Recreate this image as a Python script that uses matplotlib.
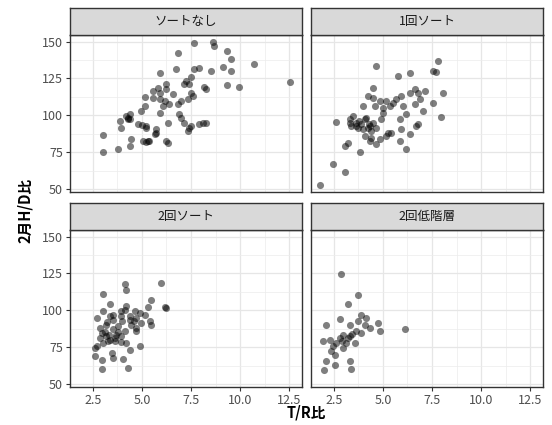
import numpy as np
import matplotlib
matplotlib.use('Agg')
import matplotlib.pyplot as plt
from matplotlib.ticker import MultipleLocator

plt.rcParams['font.family'] = ['Noto Sans CJK JP', 'DejaVu Sans']

titles = ['ソートなし', '1回ソート', '2回ソート', '2回低階層']

# ソートなし
tr_0 = [7.67, 8.6, 8.69, 6.83, 9.36, 9.53, 10.71, 9.11, 9.53, 8.52, 7.92, 7.67, 6.74, 5.9,
        12.57, 9.36, 9.95, 8.18, 8.26, 7.5, 7.25, 7.16, 7.42, 6.24, 6.24, 5.81, 5.56, 5.9,
        7.5, 7.59, 6.57, 5.14, 5.56, 5.9, 6.15, 6.4, 6.83, 6.07, 7.0, 7.33, 5.14, 4.97, 5.9,
        4.38, 4.29, 4.38, 3.87, 6.91, 7.0, 7.16, 6.32, 4.8, 5.22, 5.22, 3.95, 5.73, 7.42,
        7.33, 7.5, 7.92, 8.09, 8.26, 5.73, 5.64, 3.02, 4.46, 5.05, 5.22, 5.31, 6.24, 6.32,
        4.38, 3.78, 3.02, 4.2, 4.3, 5.35, 5.0]
hd_0 = [149.1, 149.6, 146.9, 142.3, 143.5, 138.3, 134.5, 132.7, 130.0, 130.4, 132.2, 131.1,
        131.5, 128.4, 122.5, 120.3, 119.4, 119.4, 118.0, 126.1, 123.2, 121.0, 121.0, 121.0,
        117.6, 118.7, 116.4, 115.3, 114.9, 113.1, 114.2, 112.4, 111.9, 110.8, 109.7, 107.4,
        107.4, 106.3, 109.7, 110.8, 106.3, 102.9, 101.8, 100.7, 98.4, 97.3, 96.2, 100.7, 98.4,
        95.0, 95.0, 93.9, 92.8, 91.7, 91.7, 90.5, 91.7, 89.4, 92.8, 93.9, 94.6, 94.6, 88.3,
        87.2, 86.5, 83.8, 82.6, 82.0, 82.6, 82.6, 81.1, 79.3, 77.0, 74.8, 99.5, 97.8, 82.3,
        93.2]

# 1回ソート
tr_1 = [1.8, 2.45, 3.05, 3.81, 3.05, 3.22, 2.62, 3.3, 3.47, 3.64, 3.9, 4.15, 4.32, 4.49,
        4.07, 4.41, 4.66, 4.32, 4.66, 4.92, 5.0, 5.17, 5.43, 5.85, 6.19, 6.36, 6.7, 6.79,
        5.94, 5.85, 6.19, 6.02, 5.51, 5.68, 5.94, 6.36, 6.62, 6.79, 7.13, 6.87, 6.62, 7.04,
        7.55, 7.98, 8.06, 7.72, 7.55, 7.81, 6.36, 5.77, 4.66, 4.49, 4.24, 4.49, 3.98, 4.58,
        4.83, 5.17, 5.34, 5.0, 3.73, 4.24, 4.41, 5.26, 4.07, 4.83, 3.39, 3.6, 3.8, 4.0,
        4.3, 3.3]
hd_1 = [52.7, 67.3, 61.7, 74.8, 79.3, 81.5, 95.5, 97.3, 99.5, 95.0, 93.9, 98.4, 92.8, 95.0,
        86.0, 84.9, 80.4, 82.6, 91.7, 97.3, 101.8, 86.0, 88.3, 82.6, 77.0, 87.2, 92.8, 93.9,
        90.5, 97.3, 100.7, 106.3, 108.5, 110.8, 113.1, 115.3, 117.6, 115.3, 116.4, 110.8,
        107.4, 102.9, 108.5, 99.1, 114.9, 129.3, 130.0, 137.2, 128.4, 126.6, 133.3, 118.7,
        113.1, 111.9, 106.3, 106.3, 109.7, 109.7, 106.3, 105.2, 91.7, 91.7, 89.4, 88.3, 97.3,
        83.8, 92.8, 93.0, 96.0, 91.0, 94.0, 95.0]

# 2回ソート
tr_2 = [4.12, 4.21, 5.98, 3.02, 5.48, 3.36, 4.21, 5.31, 6.15, 6.24, 3.02, 3.95, 4.12, 4.63,
        4.88, 5.14, 2.69, 3.36, 3.53, 3.95, 4.38, 5.39, 5.48, 3.19, 3.78, 4.71, 4.71, 4.12,
        2.94, 3.19, 3.36, 3.61, 3.95, 3.95, 4.21, 3.02, 2.69, 4.88, 4.38, 3.45, 3.53, 2.94,
        2.6, 4.04, 2.94, 4.29, 2.85, 3.28, 3.7, 3.53, 4.46, 2.85, 4.97, 2.6, 3.1, 3.3, 3.6,
        3.8, 4.0, 4.4, 4.7, 3.2, 3.5, 4.6]
hd_2 = [118.0, 113.9, 118.4, 111.2, 106.7, 104.4, 103.1, 102.6, 102.6, 101.5, 99.3, 99.3,
        100.4, 99.3, 98.1, 97.0, 94.8, 95.9, 93.6, 95.9, 93.6, 92.5, 90.3, 90.3, 89.1, 88.0,
        85.8, 85.8, 84.6, 82.4, 80.1, 81.2, 82.4, 78.3, 77.9, 77.9, 75.6, 75.6, 72.9, 71.1,
        67.7, 66.6, 69.3, 67.1, 60.3, 61.0, 81.2, 79.0, 83.5, 87.3, 90.3, 88.0, 91.4, 74.5,
        85.0, 83.0, 79.0, 85.0, 93.0, 96.0, 95.0, 92.0, 97.0, 93.0]

# 2回低階層
tr_3 = [2.88, 3.73, 3.22, 3.9, 2.79, 4.75, 6.11, 2.11, 3.3, 3.73, 4.07, 4.32, 4.83, 3.9,
        2.96, 3.3, 2.79, 2.28, 1.94, 3.13, 3.56, 2.45, 2.96, 2.37, 2.54, 2.11, 2.54, 3.3,
        3.39, 1.97, 2.62, 4.15, 3.4, 3.6, 2.9, 3.2]
hd_3 = [124.7, 110.5, 104.2, 97.0, 94.1, 91.4, 87.3, 90.3, 90.3, 92.5, 90.3, 88.0, 85.8,
        84.6, 83.5, 82.4, 81.2, 80.1, 79.0, 77.9, 77.9, 75.6, 74.5, 72.2, 70.0, 65.5, 63.2,
        65.5, 60.3, 59.8, 77.9, 94.8, 84.0, 86.0, 79.0, 81.0]

xs = [tr_0, tr_1, tr_2, tr_3]
ys = [hd_0, hd_1, hd_2, hd_3]

fig = plt.figure(figsize=(5.52, 4.25), dpi=100)
W, H = 552, 425
lefts = [70, 311]
tops = [35, 230]
pw, ph = 232, 157
strip_h = 27

for i in range(4):
    r, c = divmod(i, 2)
    x0 = lefts[c]
    y0 = tops[r]
    ax = fig.add_axes([x0 / W, 1 - (y0 + ph) / H, pw / W, ph / H])
    ax.scatter(xs[i], ys[i], s=26, c='black', alpha=0.5, linewidths=0, zorder=3)
    ax.set_xlim(1.33, 13.16)
    ax.set_ylim(48, 154.5)
    ax.xaxis.set_major_locator(MultipleLocator(2.5))
    ax.xaxis.set_minor_locator(MultipleLocator(1.25))
    ax.yaxis.set_major_locator(MultipleLocator(25))
    ax.yaxis.set_minor_locator(MultipleLocator(12.5))
    ax.grid(which='major', color='#e6e6e6', lw=0.9, zorder=0)
    ax.grid(which='minor', color='#ececec', lw=0.5, zorder=0)
    ax.set_axisbelow(True)
    for sp in ax.spines.values():
        sp.set_color('#333333')
        sp.set_linewidth(1.0)
    ax.tick_params(which='minor', length=0)
    ax.tick_params(which='major', length=3, color='#333333', labelsize=9,
                   labelcolor='#4d4d4d', pad=2)
    ax.xaxis.set_major_formatter(plt.FuncFormatter(lambda v, p: f'{v:.1f}'))
    ax.yaxis.set_major_formatter(plt.FuncFormatter(lambda v, p: f'{v:.0f}'))
    if r == 0:
        ax.tick_params(axis='x', labelbottom=False, length=0)
    if c == 1:
        ax.tick_params(axis='y', labelleft=False, length=0)

    sax = fig.add_axes([x0 / W, 1 - y0 / H, pw / W, strip_h / H])
    sax.set_facecolor('#d9d9d9')
    sax.set_xticks([])
    sax.set_yticks([])
    for sp in sax.spines.values():
        sp.set_color('#333333')
        sp.set_linewidth(1.0)
    sax.text(0.5, 0.5, titles[i], ha='center', va='center', fontsize=9,
             color='#1a1a1a', transform=sax.transAxes)

fig.text(306 / W, 1 - 413 / H, 'T/R比', ha='center', va='center', fontsize=10.5,
         fontweight='bold')
fig.text(25 / W, 1 - 210 / H, '2月H/D比', ha='center', va='center', fontsize=10.5,
         fontweight='bold', rotation=90)

fig.savefig('out.png', dpi=100)
